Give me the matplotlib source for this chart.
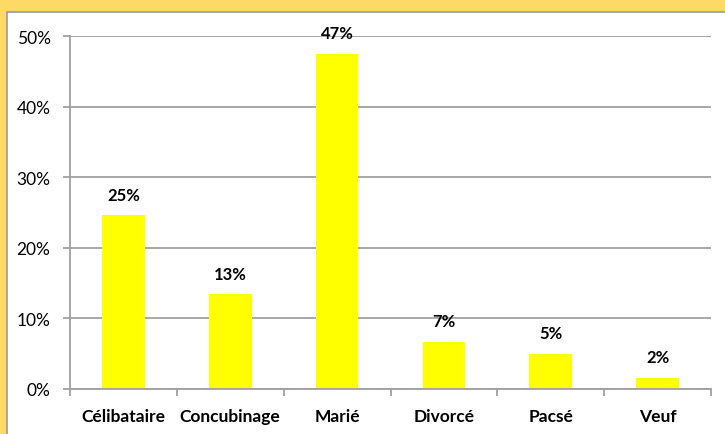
import matplotlib.pyplot as plt
from matplotlib.patches import Rectangle
from matplotlib.ticker import PercentFormatter

categories = ['Célibataire', 'Concubinage', 'Marié', 'Divorcé', 'Pacsé', 'Veuf']
values = [24.6, 13.4, 47.5, 6.7, 5.0, 1.6]
labels = ['25%', '13%', '47%', '7%', '5%', '2%']

plt.rcParams['font.family'] = ['Lato', 'DejaVu Sans']

fig = plt.figure(figsize=(7.25, 4.35), dpi=100)
fig.patch.set_facecolor('#FFD966')

# white chart area with grey border, yellow frame only on top and left
fig.patches.append(Rectangle((7 / 725, -0.01), 1.02, (422 / 435) + 0.01,
                             transform=fig.transFigure, facecolor='white',
                             edgecolor='#9A9A9A', linewidth=1.2, zorder=-5))

ax = fig.add_axes([70 / 725, 45 / 435, 641 / 725, 353 / 435])
ax.set_facecolor('none')
ax.set_zorder(1)

x = range(len(categories))
ax.bar(x, values, width=0.4, color='#FFFF00', zorder=2)

for i, (v, lab) in enumerate(zip(values, labels)):
    ax.annotate(lab, (i, v), xytext=(0, 9), textcoords='offset points',
                ha='center', va='bottom', fontsize=12, fontweight='bold')

ax.set_xlim(-0.5, len(categories) - 0.5)
ax.set_ylim(0, 50)
ax.set_yticks(range(0, 51, 10))
ax.yaxis.set_major_formatter(PercentFormatter(decimals=0))
ax.yaxis.grid(True, color='#A0A0A0', linewidth=1.3, zorder=1)

ax.set_xticks([i + 0.5 for i in range(-1, len(categories))])
ax.set_xticklabels([])
ax.set_xticks(list(x), minor=True)
ax.set_xticklabels(categories, minor=True, fontsize=12.5, fontweight='bold')
ax.tick_params(axis='x', which='minor', length=0, pad=14)
ax.tick_params(axis='x', which='major', length=5, color='#A0A0A0', width=1.3)
ax.tick_params(axis='y', length=5, color='#A0A0A0', width=1.3, labelsize=12.5, pad=9)

for side in ['top', 'right']:
    ax.spines[side].set_visible(False)
for side in ['left', 'bottom']:
    ax.spines[side].set_color('#A0A0A0')
    ax.spines[side].set_linewidth(1.3)

fig.savefig('out.png', dpi=100, facecolor=fig.get_facecolor())
